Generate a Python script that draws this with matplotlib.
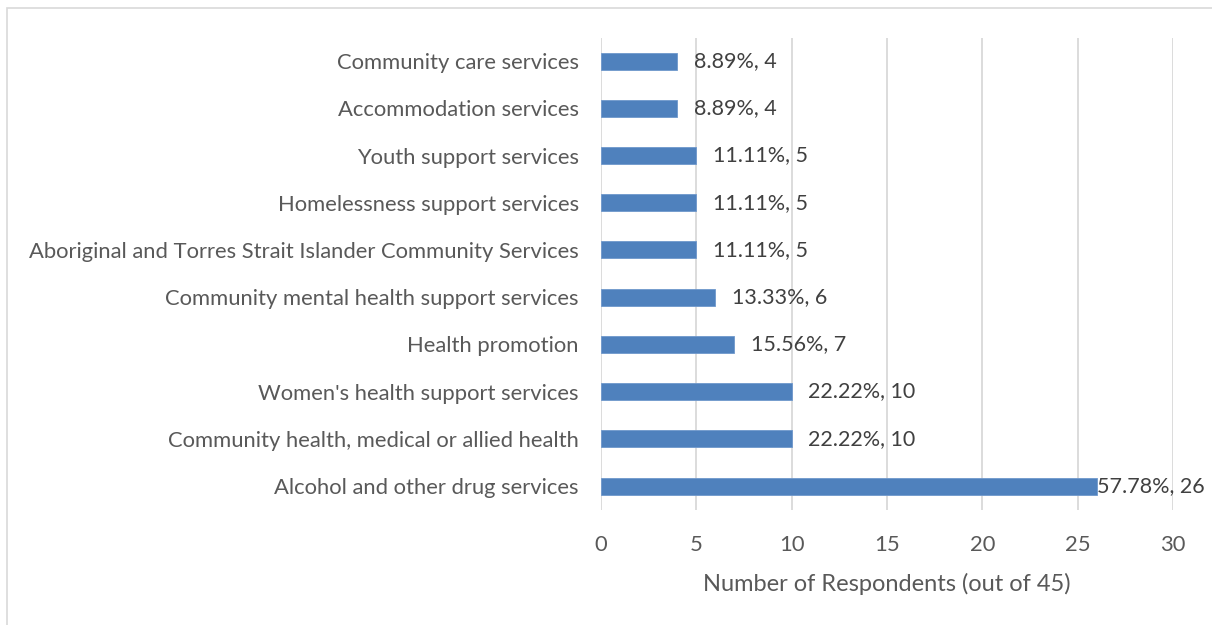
#!/usr/bin/env python3
"""Horizontal bar chart of respondents by service type."""

import matplotlib
matplotlib.use("Agg")
import matplotlib.pyplot as plt
from matplotlib.patches import Rectangle

categories = [
    "Alcohol and other drug services",
    "Community health, medical or allied health",
    "Women's health support services",
    "Health promotion",
    "Community mental health support services",
    "Aboriginal and Torres Strait Islander Community Services",
    "Homelessness support services",
    "Youth support services",
    "Accommodation services",
    "Community care services",
]
counts = [26, 10, 10, 7, 6, 5, 5, 5, 4, 4]
percents = ["57.78%", "22.22%", "22.22%", "15.56%", "13.33%",
            "11.11%", "11.11%", "11.11%", "8.89%", "8.89%"]
x_ticks = [0, 5, 10, 15, 20, 25, 30]

plt.rcParams["font.family"] = ["Lato", "DejaVu Sans"]
TEXT = "#595959"

fig = plt.figure(figsize=(12.12, 6.25), dpi=100)
ax = fig.add_axes([0.4959, 0.1846, 0.4719, 0.7554])

y = range(len(categories))
ax.barh(y, counts, height=0.36, color="#4F81BD", edgecolor="#6F98CC",
        linewidth=0.6, zorder=3)

# Excel pushes the longest label back against its bar so it fits
for yi, c, p in zip(y, counts, percents):
    off = 0.5 if c == max(counts) else 12
    ax.annotate(f"{p}, {c}", (c, yi), xytext=(off, 0),
                textcoords="offset points", va="center", ha="left",
                fontsize=15.5, color="#404040", zorder=4)

ax.set_xlim(0, 30)
ax.set_ylim(-0.5, len(categories) - 0.5)
ax.set_xticks(x_ticks)
ax.set_yticks(list(y))
ax.set_yticklabels(categories)
ax.grid(axis="x", color="#D9D9D9", linewidth=1.3, zorder=0)
for s in ax.spines.values():
    s.set_visible(False)
ax.tick_params(axis="both", length=0, labelsize=15.8, colors=TEXT)
ax.tick_params(axis="x", pad=18)
ax.tick_params(axis="y", pad=16)
ax.set_xlabel("Number of Respondents (out of 45)", fontsize=17,
              color=TEXT, labelpad=13)

fig.patches.append(Rectangle((7 / 1212, -0.01), 1.02, 1 - 8 / 625 + 0.01,
                             transform=fig.transFigure, fill=False,
                             edgecolor="#D9D9D9", linewidth=1.2))

fig.savefig("out.png", dpi=100)
